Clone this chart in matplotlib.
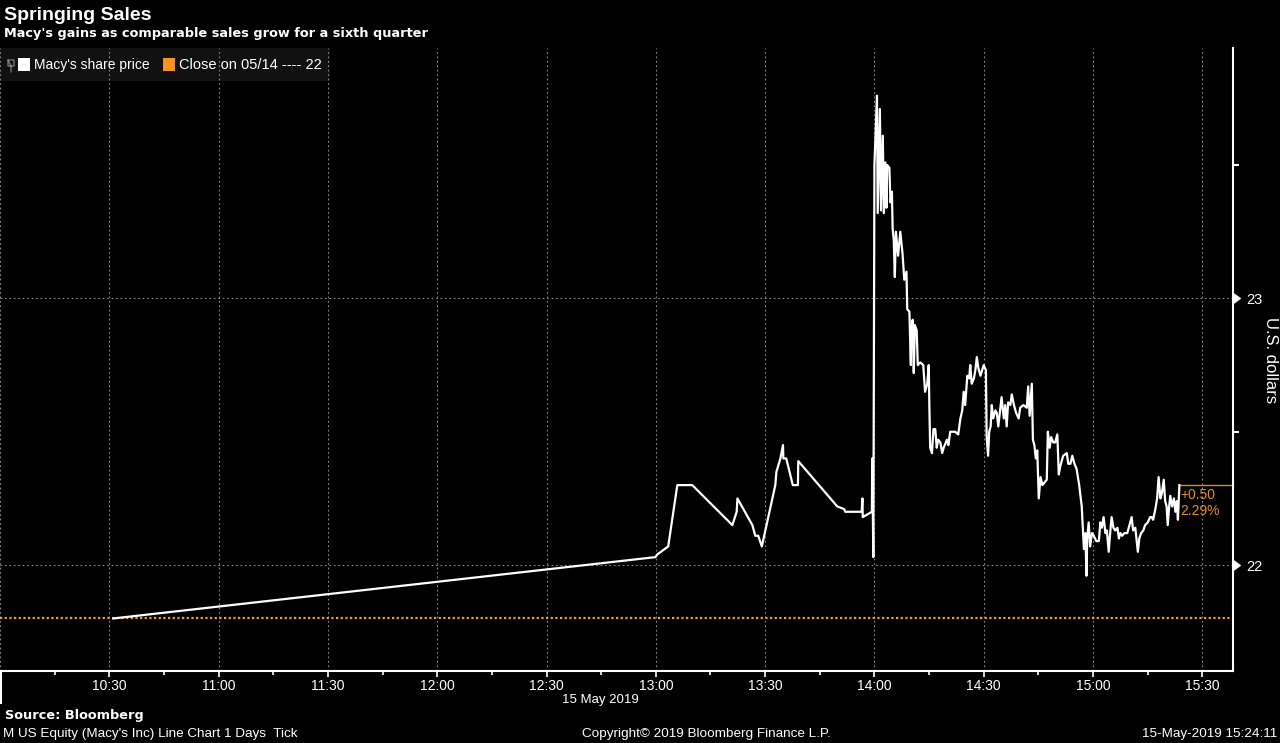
import matplotlib
matplotlib.use('Agg')
import matplotlib.pyplot as plt
from matplotlib import markers
from matplotlib.patches import Rectangle
from matplotlib.lines import Line2D


title = 'Springing Sales'
subtitle = "Macy's gains as comparable sales grow for a sixth quarter"
source = 'Source: Bloomberg'
footer_left = "M US Equity (Macy's Inc) Line Chart 1 Days  Tick"
footer_mid = 'Copyright\u00a9 2019 Bloomberg Finance L.P.'
footer_right = '15-May-2019 15:24:11'
date_label = '15 May 2019'
y_label = 'U.S. dollars'
legend_price = "Macy's share price"
legend_close = 'Close on 05/14 ---- 22'

# trades, minutes after 10:00 on 15 May 2019
tick_minutes = [
    31.1, 179.9, 180.4, 183.4, 185.9, 190.0, 201.0, 202.2, 202.4, 206.5,
    207.3, 208.1, 209.1, 212.8, 213.1, 214.2, 214.9, 215.0, 215.8, 217.6,
    219.0, 219.1, 229.8, 231.7, 232.0, 236.5, 236.7, 236.8, 239.3, 239.4,
    239.7, 240.0, 240.7, 240.9, 241.5, 241.8, 242.3, 242.6, 243.0, 243.3,
    243.5, 244.1, 244.4, 244.8, 245.0, 245.3, 245.6, 245.9, 246.5, 247.1,
    247.7, 248.2, 248.8, 249.0, 249.6, 250.0, 250.1, 250.5, 250.8, 251.1,
    251.6, 251.9, 252.6, 253.4, 253.9, 254.5, 254.9, 255.1, 255.3, 255.8,
    256.2, 256.7, 257.1, 257.5, 258.1, 258.6, 259.0, 259.9, 260.3, 260.8,
    262.2, 263.0, 263.6, 264.1, 264.5, 264.9, 265.5, 266.0, 266.3, 266.7,
    267.3, 267.7, 268.1, 268.5, 269.1, 270.0, 270.6, 270.8, 271.2, 271.5,
    271.9, 272.2, 272.6, 273.2, 273.6, 274.0, 274.5, 274.9, 275.5, 275.9,
    276.3, 276.7, 277.3, 277.7, 278.3, 278.9, 279.6, 280.0, 280.9, 281.8,
    282.2, 282.6, 283.2, 283.5, 283.9, 284.3, 284.7, 285.1, 285.6, 286.1,
    286.7, 287.3, 287.6, 288.1, 288.5, 289.1, 289.6, 290.2, 290.6, 291.0,
    291.4, 291.8, 292.8, 293.2, 293.8, 294.3, 294.9, 295.5, 296.2, 296.9,
    297.2, 297.5, 297.9, 298.2, 298.4, 298.8, 299.2, 299.7, 300.2, 300.9,
    301.6, 302.0, 302.4, 302.9, 303.4, 303.8, 304.3, 304.7, 305.1, 305.6,
    306.1, 306.7, 307.1, 307.5, 308.0, 308.6, 309.4, 310.2, 310.6, 311.0,
    311.6, 312.3, 312.7, 313.2, 313.8, 314.3, 315.0, 315.7, 316.1, 316.5,
    317.1, 317.6, 318.0, 318.5, 318.9, 319.4, 319.8, 320.2, 320.5, 320.9,
    321.2, 321.7, 322.2, 322.6, 323.0, 323.3, 323.7,
]
share_price = [
    21.80, 22.03, 22.04, 22.07, 22.30, 22.30, 22.15, 22.20, 22.25, 22.15,
    22.11, 22.11, 22.07, 22.30, 22.35, 22.40, 22.45, 22.40, 22.40, 22.30,
    22.30, 22.39, 22.22, 22.21, 22.20, 22.20, 22.25, 22.18, 22.20, 22.40,
    22.03, 23.50, 23.76, 23.32, 23.71, 23.33, 23.61, 23.32, 23.51, 23.34,
    23.50, 23.49, 23.36, 23.40, 23.26, 23.22, 23.08, 23.25, 23.16, 23.25,
    23.17, 23.07, 23.10, 22.96, 22.95, 22.75, 22.88, 22.92, 22.72, 22.90,
    22.88, 22.75, 22.76, 22.75, 22.65, 22.68, 22.75, 22.58, 22.44, 22.42,
    22.51, 22.51, 22.44, 22.47, 22.46, 22.42, 22.44, 22.47, 22.45, 22.50,
    22.50, 22.49, 22.55, 22.58, 22.65, 22.60, 22.71, 22.70, 22.75, 22.68,
    22.70, 22.73, 22.78, 22.74, 22.71, 22.75, 22.73, 22.48, 22.41, 22.50,
    22.52, 22.60, 22.55, 22.58, 22.57, 22.52, 22.58, 22.63, 22.55, 22.60,
    22.52, 22.61, 22.60, 22.64, 22.60, 22.57, 22.55, 22.59, 22.60, 22.59,
    22.67, 22.56, 22.68, 22.47, 22.45, 22.40, 22.43, 22.25, 22.33, 22.30,
    22.31, 22.32, 22.50, 22.44, 22.48, 22.46, 22.46, 22.49, 22.34, 22.37,
    22.39, 22.41, 22.42, 22.38, 22.38, 22.41, 22.38, 22.36, 22.30, 22.22,
    22.14, 22.06, 22.12, 21.96, 22.10, 22.16, 22.07, 22.12, 22.11, 22.09,
    22.09, 22.16, 22.14, 22.18, 22.12, 22.13, 22.05, 22.12, 22.18, 22.14,
    22.13, 22.14, 22.10, 22.12, 22.11, 22.12, 22.12, 22.16, 22.18, 22.13,
    22.14, 22.05, 22.10, 22.12, 22.13, 22.15, 22.16, 22.18, 22.18, 22.17,
    22.21, 22.25, 22.33, 22.25, 22.27, 22.32, 22.24, 22.22, 22.15, 22.22,
    22.26, 22.22, 22.25, 22.20, 22.24, 22.17, 22.30,
]

prev_close = 21.80
last_change = '+0.50'
last_change_pct = '2.29%'

time_labels = ['10:30', '11:00', '11:30', '12:00', '12:30', '13:00',
               '13:30', '14:00', '14:30', '15:00', '15:30']
price_ticks = [22, 23]
price_minor = [22.5, 23.5]
x_range = (0, 338.5)
y_range = (21.603, 23.94)

ORANGE = '#F39A3A'
GRID = '#8a8a8a'
SANS = ['Liberation Sans', 'DejaVu Sans']

W, H = 1280, 743


def px(x, y):
    # pixel position on the canvas -> figure fraction
    return x / W, 1 - y / H


def label_minutes(label):
    h, m = label.split(':')
    return int(h) * 60 + int(m) - 600


fig = plt.figure(figsize=(W / 100, H / 100), dpi=100, facecolor='black')
ax = fig.add_axes([0, 72 / H, 1233.3 / W, 623.3 / H])
ax.set_facecolor('black')
ax.set_xlim(*x_range)
ax.set_ylim(*y_range)

# legend backdrop inside the plot
ax.add_patch(Rectangle((0, 1 - 33.5 / 623.3), 330 / 1233.3, 33.5 / 623.3,
                       transform=ax.transAxes, facecolor='#111111',
                       edgecolor='none', zorder=0.4))

# grid
major_x = [label_minutes(t) for t in time_labels]
for xv in [x_range[0]] + major_x:
    ax.axvline(xv, color=GRID, lw=0.8, ls=(0, (1.5, 2.5)), zorder=0.6)
for yv in price_ticks:
    ax.axhline(yv, color=GRID, lw=0.8, ls=(0, (1.5, 2.5)), zorder=0.6)

# previous close
ax.axhline(prev_close, color=ORANGE, lw=1.6, ls=(0, (1, 1.1)), zorder=2)

# price line
ax.plot(tick_minutes, share_price, color='white', lw=1.6, zorder=3)

# last value marker
ax.plot([tick_minutes[-1], x_range[1]], [share_price[-1]] * 2,
        color='#D8892E', lw=1.0, zorder=2, clip_on=False)
ax.annotate(last_change + '\n' + last_change_pct,
            (tick_minutes[-1], share_price[-1]), xytext=(1, -3),
            textcoords='offset pixels', ha='left', va='top',
            color='#E48E30', fontsize=10, family=SANS, linespacing=1.15)

# spines
for side in ['top', 'left']:
    ax.spines[side].set_visible(False)
for side in ['bottom', 'right']:
    ax.spines[side].set_color('white')
    ax.spines[side].set_linewidth(1.5)

# x axis
ax.set_xticks(major_x)
ax.set_xticklabels(time_labels, family=SANS, fontsize=10, color='white')
ax.set_xticks([label_minutes(t) - 15 for t in time_labels], minor=True)
ax.tick_params(axis='x', which='major', direction='out', length=4,
               width=1.2, color='white', pad=1.5)
ax.tick_params(axis='x', which='minor', direction='out', length=3,
               width=1.2, color='white')

# y axis on the right
ax.yaxis.tick_right()
ax.set_yticks(price_ticks)
ax.set_yticklabels([str(v) for v in price_ticks], family=SANS,
                   fontsize=10.5, color='white')
ax.set_yticks(price_minor, minor=True)
ax.tick_params(axis='y', which='major', right=True, left=False,
               color='white', pad=6)
ax.tick_params(axis='y', which='minor', right=True, left=False,
               direction='out', length=4, width=1.5, color='white')
for tick in ax.yaxis.get_major_ticks():
    tick.tick2line.set_marker(markers.CARETRIGHTBASE)
    tick.tick2line.set_markersize(7)
    tick.tick2line.set_markerfacecolor('white')
    tick.tick2line.set_markeredgecolor('white')

# separator below the axis at the left
fig.add_artist(Line2D([1 / W, 1 / W], [1 - 671 / H, 1 - 703 / H],
                      color='white', lw=1.5, transform=fig.transFigure))

# titles
fig.text(*px(4, 15), title, color='white', fontsize=14, weight='bold',
         family=SANS, va='center', ha='left')
fig.text(*px(4, 33), subtitle, color='white', fontsize=9.3, weight='bold',
         family='DejaVu Sans', va='center', ha='left')

# legend
fig.add_artist(Line2D([8 / W, 14 / W, 14 / W, 8 / W, 8 / W, 11 / W, 11 / W],
                      [px(0, 60)[1], px(0, 60)[1], px(0, 66)[1], px(0, 66)[1],
                       px(0, 60)[1], px(0, 66)[1], px(0, 72)[1]],
                      color='#8a8a8a', lw=0.8, transform=fig.transFigure))
fig.add_artist(Rectangle(px(18, 71), 12 / W, 13 / H, facecolor='white',
                         edgecolor='none', transform=fig.transFigure))
fig.text(*px(34, 65), legend_price, color='white', fontsize=10,
         family=SANS, va='center', ha='left')
fig.add_artist(Rectangle(px(163, 71), 12 / W, 13 / H, facecolor='#F7941D',
                         edgecolor='none', transform=fig.transFigure))
fig.text(*px(179, 65), legend_close, color='white', fontsize=10.5,
         family=SANS, va='center', ha='left')

# axis title, date and footer
fig.text(*px(1270, 360), y_label, color='white', fontsize=12, family=SANS,
         rotation=270, va='center', ha='center')
fig.text(*px(600, 700), date_label, color='white', fontsize=9.5,
         family=SANS, va='center', ha='center')
fig.text(*px(5, 716), source, color='white', fontsize=9.3, weight='bold',
         family='DejaVu Sans', va='center', ha='left')
fig.text(*px(3, 734), footer_left, color='white', fontsize=9.7,
         family=SANS, va='center', ha='left')
fig.text(*px(706, 734), footer_mid, color='white', fontsize=9.7,
         family=SANS, va='center', ha='center')
fig.text(*px(1277, 734), footer_right, color='white', fontsize=9.7,
         family=SANS, va='center', ha='right')

fig.savefig('out.png', dpi=100, facecolor='black')
